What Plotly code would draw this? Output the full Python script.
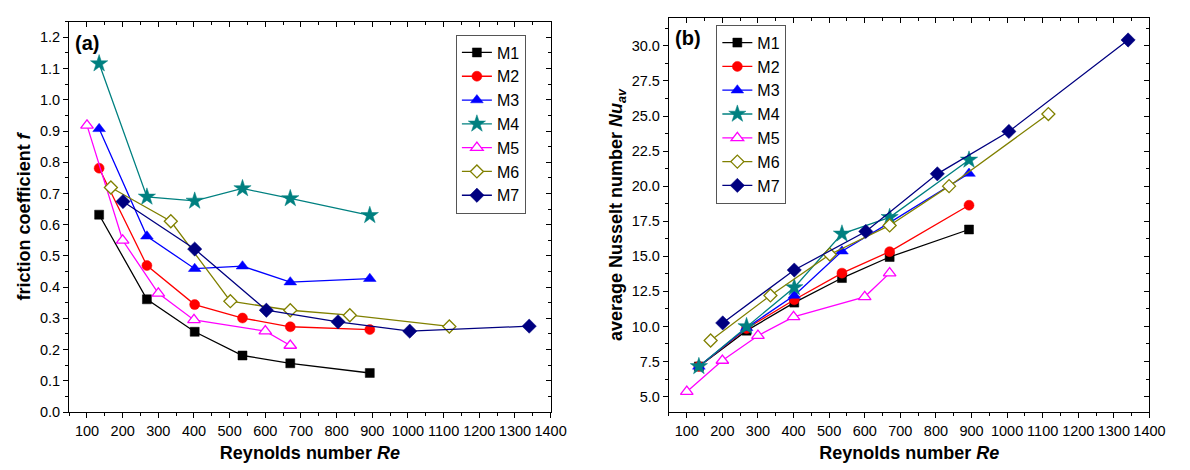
"""
plot.py

Friction coefficient (a) and average Nusselt number (b) versus Reynolds
number for the seven channel models M1..M7, side by side.
"""

import plotly.graph_objects as go

# ─── Data ─────────────────────────────────────────────────────────────────────

models = ["M1", "M2", "M3", "M4", "M5", "M6", "M7"]

re_m1 = [134, 268, 402, 536, 670, 893]
re_m2 = [134, 268, 402, 536, 670, 893]
re_m3 = [134, 268, 402, 536, 670, 893]
re_m4 = [134, 268, 402, 536, 670, 893]
re_m5 = [100, 200, 300, 400, 600, 670]
re_m6 = [167, 335, 502, 670, 837, 1116]
re_m7 = [201, 402, 603, 804, 1005, 1340]

f_m1 = [0.632, 0.361, 0.257, 0.181, 0.156, 0.125]
f_m2 = [0.781, 0.469, 0.344, 0.301, 0.273, 0.264]
f_m3 = [0.907, 0.563, 0.459, 0.467, 0.416, 0.427]
f_m4 = [1.116, 0.689, 0.676, 0.716, 0.684, 0.630]
f_m5 = [0.918, 0.550, 0.380, 0.295, 0.259, 0.213]
f_m6 = [0.719, 0.611, 0.355, 0.326, 0.310, 0.274]
f_m7 = [0.674, 0.522, 0.326, 0.289, 0.259, 0.275]

nu_m1 = [7.15, 9.70, 11.70, 13.45, 14.95, 16.91]
nu_m2 = [7.15, 9.85, 11.90, 13.80, 15.33, 18.64]
nu_m3 = [7.15, 9.90, 12.20, 15.36, 17.40, 20.90]
nu_m4 = [7.15, 10.00, 12.78, 16.60, 17.78, 21.87]
nu_m5 = [5.35, 7.57, 9.34, 10.68, 12.11, 13.80]
nu_m6 = [9.00, 12.21, 15.13, 17.20, 20.00, 25.14]
nu_m7 = [10.25, 14.02, 16.77, 20.88, 23.90, 30.42]

re_values = [re_m1, re_m2, re_m3, re_m4, re_m5, re_m6, re_m7]
f_values = [f_m1, f_m2, f_m3, f_m4, f_m5, f_m6, f_m7]
nu_values = [nu_m1, nu_m2, nu_m3, nu_m4, nu_m5, nu_m6, nu_m7]

# ─── Style ────────────────────────────────────────────────────────────────────

FONT = "Liberation Sans, Arial, sans-serif"

colors = ["#000000", "#FF0000", "#0000FF", "#008080", "#FF00FF", "#808000", "#000080"]
symbols = ["square", "circle", "triangle-up", "star", "triangle-up", "diamond", "diamond"]
sizes = [9, 10, 11, 13, 11, 10, 11]
hollow = [False, False, False, False, True, True, False]


def marker_style(i: int) -> dict:
    """Filled or white-filled marker for model i."""
    if hollow[i]:
        return dict(symbol=symbols[i], size=sizes[i], color="white",
                    line=dict(color=colors[i], width=1.3))
    return dict(symbol=symbols[i], size=sizes[i], color=colors[i],
                line=dict(color=colors[i], width=0.5))


def axis_style(dtick, minor_dtick, rng, fmt=None) -> dict:
    """Origin-like framed axis with outside major/minor ticks."""
    d = dict(
        range=rng, dtick=dtick, tick0=0,
        showline=True, linecolor="black", linewidth=1.3, mirror=True,
        ticks="outside", ticklen=5, tickwidth=1.2, tickcolor="black",
        minor=dict(dtick=minor_dtick, ticks="outside", ticklen=3,
                   tickwidth=1.2, tickcolor="black"),
        showgrid=False, zeroline=False,
        tickfont=dict(family=FONT, size=14.5, color="black"),
    )
    if fmt:
        d["tickformat"] = fmt
    return d


def mirror_style(dtick, minor_dtick, rng, overlay, anchor, side) -> dict:
    """Tick-only overlay axis to draw inward ticks on the top/right frame."""
    return dict(
        range=rng, dtick=dtick, tick0=0, overlaying=overlay, anchor=anchor,
        side=side, showline=False, showgrid=False, zeroline=False,
        showticklabels=False, ticks="inside", ticklen=5, tickwidth=1.2,
        tickcolor="black",
        minor=dict(dtick=minor_dtick, ticks="inside", ticklen=3,
                   tickwidth=1.2, tickcolor="black"),
    )


# ─── Figure ───────────────────────────────────────────────────────────────────

fig = go.Figure()

for i, name in enumerate(models):
    fig.add_trace(go.Scatter(
        x=re_values[i], y=f_values[i], name=name, mode="lines+markers",
        line=dict(color=colors[i], width=1.3), marker=marker_style(i),
        xaxis="x", yaxis="y", legend="legend",
    ))

for i, name in enumerate(models):
    fig.add_trace(go.Scatter(
        x=re_values[i], y=nu_values[i], name=name, mode="lines+markers",
        line=dict(color=colors[i], width=1.3), marker=marker_style(i),
        xaxis="x2", yaxis="y2", legend="legend2",
    ))

# empty traces so the inward-tick overlay axes get drawn
fig.add_trace(go.Scatter(x=[], y=[], xaxis="x3", yaxis="y3",
                         showlegend=False, hoverinfo="skip"))
fig.add_trace(go.Scatter(x=[], y=[], xaxis="x4", yaxis="y4",
                         showlegend=False, hoverinfo="skip"))

X_RANGE = [50, 1400]
YA_RANGE = [0, 1.25]
YB_RANGE = [3.9, 32]

xa_dom = [62 / 1190, 550 / 1190]
xb_dom = [670 / 1190, 1157 / 1190]
ya_dom = [(470 - 411) / 470, (470 - 14) / 470]
yb_dom = [(470 - 411) / 470, (470 - 10) / 470]

title_font = dict(family=FONT, size=18, color="black")

fig.update_layout(
    width=1190, height=470,
    margin=dict(l=0, r=0, t=0, b=0),
    paper_bgcolor="white", plot_bgcolor="white",
    font=dict(family=FONT, color="black"),
    xaxis=dict(**axis_style(100, 50, X_RANGE), domain=xa_dom, anchor="y",
               title=dict(text="<b>Reynolds number <i>Re</i></b>",
                          font=title_font, standoff=8)),
    yaxis=dict(**axis_style(0.1, 0.05, YA_RANGE, ".1f"), domain=ya_dom,
               anchor="x",
               title=dict(text="<b>friction coefficient <i>f</i></b>",
                          font=title_font, standoff=4)),
    xaxis2=dict(**axis_style(100, 50, X_RANGE), domain=xb_dom, anchor="y2",
                title=dict(text="<b>Reynolds number <i>Re</i></b>",
                           font=title_font, standoff=8)),
    yaxis2=dict(**axis_style(2.5, 1.25, YB_RANGE, ".1f"), domain=yb_dom,
                anchor="x2",
                title=dict(text="<b>average Nusselt number <i>Nu</i><sub><i>av</i></sub></b>",
                           font=title_font, standoff=4)),
    xaxis3=mirror_style(100, 50, X_RANGE, "x", "y3", "top"),
    yaxis3=mirror_style(0.1, 0.05, YA_RANGE, "y", "x3", "right"),
    xaxis4=mirror_style(100, 50, X_RANGE, "x2", "y4", "top"),
    yaxis4=mirror_style(2.5, 1.25, YB_RANGE, "y2", "x4", "right"),
    legend=dict(x=454 / 1190, y=1 - 27 / 470, xanchor="left", yanchor="top",
                bgcolor="white", bordercolor="#555555", borderwidth=1,
                font=dict(family=FONT, size=16, color="black"),
                tracegroupgap=0, itemwidth=30),
    legend2=dict(x=718 / 1190, y=1 - 17 / 470, xanchor="left", yanchor="top",
                 bgcolor="white", bordercolor="#555555", borderwidth=1,
                 font=dict(family=FONT, size=16, color="black"),
                 tracegroupgap=0, itemwidth=30),
    showlegend=True,
)

fig.add_annotation(text="<b>(a)</b>", xref="paper", yref="paper",
                   x=66 / 1190, y=1 - 36 / 470, xanchor="left", yanchor="middle",
                   showarrow=False, font=dict(family=FONT, size=20, color="black"))
fig.add_annotation(text="<b>(b)</b>", xref="paper", yref="paper",
                   x=674 / 1190, y=1 - 31 / 470, xanchor="left", yanchor="middle",
                   showarrow=False, font=dict(family=FONT, size=20, color="black"))

fig.write_html("out.html")
